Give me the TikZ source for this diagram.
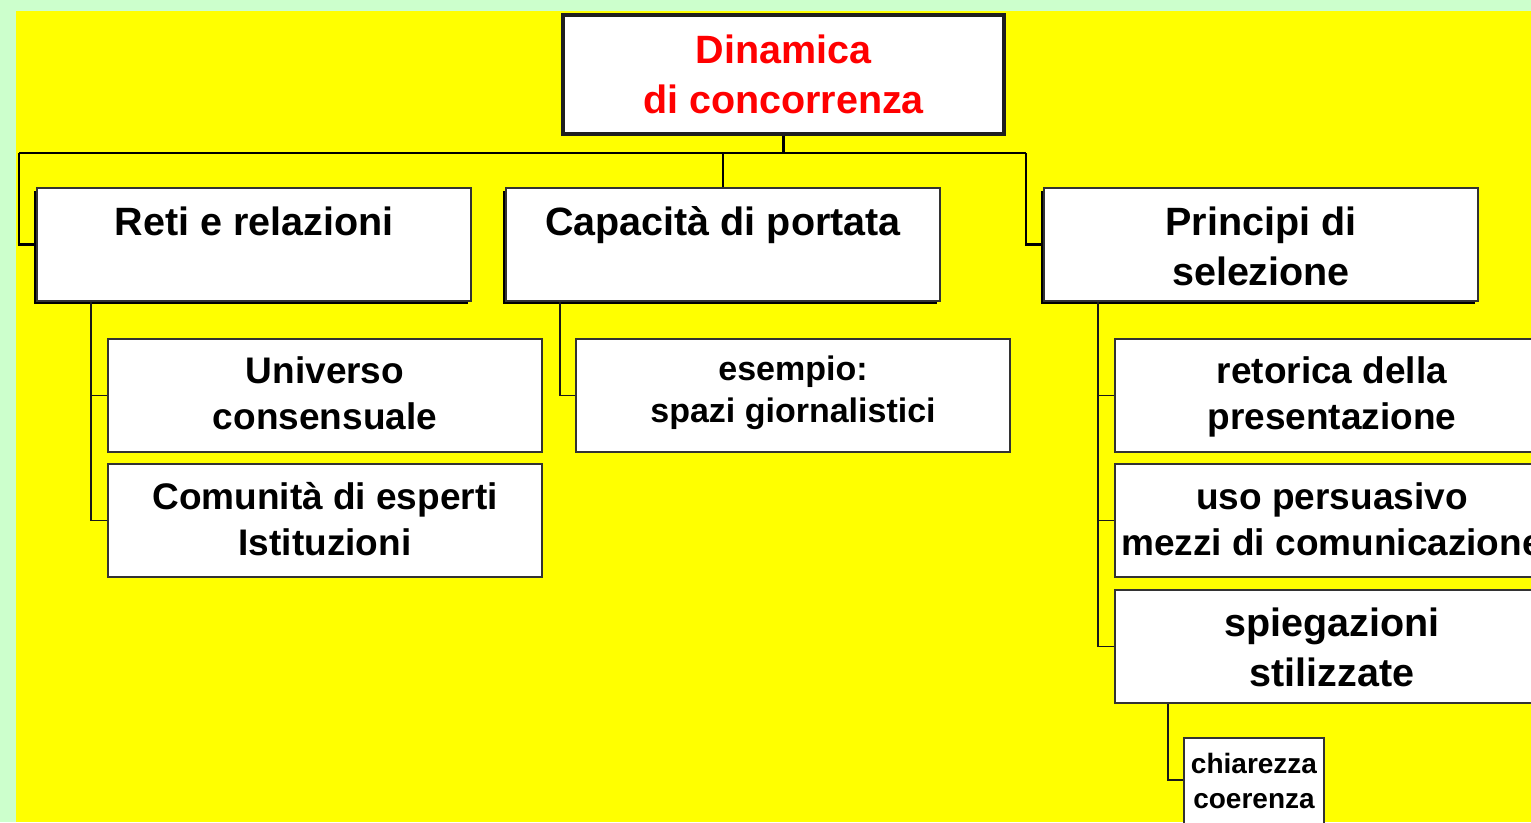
\documentclass[tikz,border=0pt]{standalone}
\usepackage{fontspec}
\setmainfont{Liberation Sans}
\usetikzlibrary{shadows}
\definecolor{bggreen}{HTML}{CCFFCC}
\definecolor{bgyellow}{HTML}{FFFF00}
\definecolor{titlered}{HTML}{FF0000}
\definecolor{edge}{HTML}{333333}
\tikzset{
  rootbox/.style={draw=black!88, line width=4.5pt, fill=white, minimum width=441pt, minimum height=119pt, inner sep=0pt},
  topbox/.style={draw=edge, line width=1.5pt, fill=white, minimum width=434pt, minimum height=113pt, inner sep=0pt,
     drop shadow={shadow xshift=-3pt, shadow yshift=-3pt, fill=black, opacity=1}},
  subbox/.style={draw=edge, line width=1.5pt, fill=white, minimum width=434pt, minimum height=113pt, inner sep=0pt},
  smallbox/.style={draw=edge, line width=1.5pt, fill=white, minimum width=140pt, minimum height=120pt, inner sep=0pt},
  lbl/.style={anchor=base, align=center, inner sep=0pt, font=\bfseries},
  bigtxt/.style={lbl, font=\fontsize{39.5}{50}\selectfont\bfseries},
  midtxt/.style={lbl, font=\fontsize{37}{45.5}\selectfont\bfseries},
  smltxt/.style={lbl, font=\fontsize{34}{41.5}\selectfont\bfseries},
  tinytxt/.style={lbl, font=\fontsize{28}{34.5}\selectfont\bfseries},
  busline/.style={line width=2.8pt, draw=black},
  subline/.style={line width=1.9pt, draw=black!90},
}
\begin{document}
\begin{tikzpicture}[x=1pt,y=1pt]
\useasboundingbox (0,0) rectangle (1531,-822);
\clip (0,0) rectangle (1531,-822);
\fill[bggreen] (0,0) rectangle (1531,-822);
\fill[bgyellow] (16,-11) rectangle (1531,-822);

\coordinate (busL) at (19,-153);
\coordinate (busR) at (1026,-153);

% boxes
\node[rootbox] (root) at (783.5,-74.5) {};
\node[topbox] (reti) at (254,-244.5) {};
\node[topbox] (capa) at (723,-244.5) {};
\node[topbox] (princ) at (1261,-244.5) {};

\node[subbox] (univ) at (325,-395.5) {};
\node[subbox] (comu) at (325,-520.5) {};
\node[subbox] (esem) at (793,-395.5) {};
\node[subbox] (reto) at (1332,-395.5) {};
\node[subbox] (uso) at (1332,-520.5) {};
\node[subbox] (spie) at (1332,-646.5) {};
\node[smallbox] (chia) at (1254,-798) {};

% top-level connectors
\draw[busline] (root.south) -- (root.south |- busL);
\draw[busline] (busL) -- (busR);
\draw[busline] (busL) |- (reti.west);
\draw[busline] (busR) |- (princ.west);
\draw[busline] (capa.north |- busL) -- (capa.north);

% sub connectors
\coordinate (rstem) at (91,-302);
\draw[subline] (rstem) |- (comu.west);
\draw[subline] (rstem |- univ.west) -- (univ.west);
\coordinate (cstem) at (560,-302);
\draw[subline] (cstem) |- (esem.west);
\coordinate (pstem) at (1098,-302);
\draw[subline] (pstem) |- (spie.west);
\draw[subline] (pstem |- reto.west) -- (reto.west);
\draw[subline] (pstem |- uso.west) -- (uso.west);
\coordinate (sstem) at (1168,-704);
\draw[subline] (sstem) |- (chia.west |- 0,-780);

% texts (base = baseline of the last line)
\node[bigtxt, text=titlered] (troot) at (783.5,-113) {Dinamica\\di concorrenza};
\node[bigtxt] (treti) at (254,-235) {Reti e relazioni};
\node[bigtxt] (tcapa) at (723,-235) {Capacità di portata};
\node[bigtxt] (tprinc) at (1261,-285) {Principi di\\selezione};
\node[midtxt] (tuniv) at (325,-429) {Universo\\consensuale};
\node[midtxt] (tcomu) at (325,-555) {Comunità di esperti\\Istituzioni};
\node[smltxt] (tesem) at (793,-422) {esempio:\\spazi giornalistici};
\node[midtxt] (treto) at (1332,-429) {retorica della\\presentazione};
\node[midtxt] (tuso) at (1332,-555) {uso persuasivo\\mezzi di comunicazione};
\node[bigtxt] (tspie) at (1332,-686) {spiegazioni\\stilizzate};
\node[tinytxt] (tchia) at (1254,-808) {chiarezza\\coerenza};
\end{tikzpicture}
\end{document}
